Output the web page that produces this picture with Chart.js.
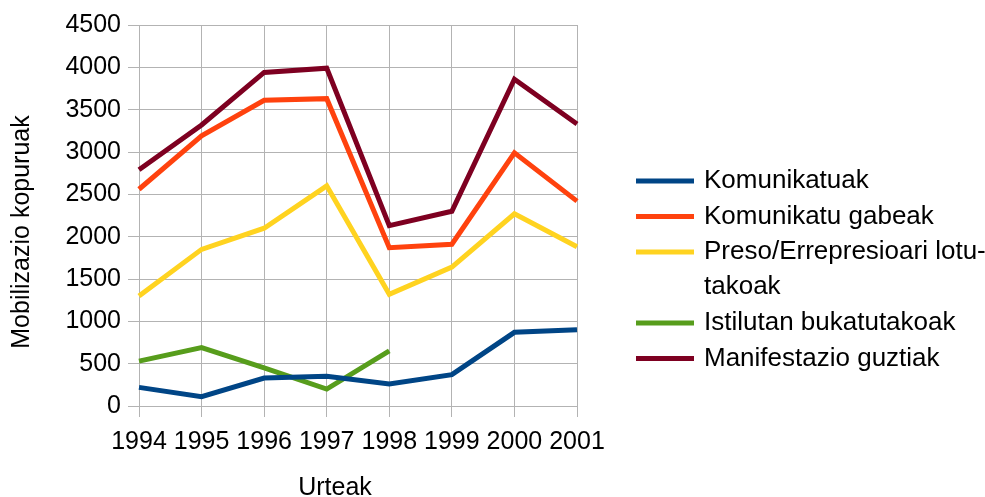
<!DOCTYPE html>
<html><head><meta charset="utf-8">
<script src="https://cdn.jsdelivr.net/npm/chart.js@4/dist/chart.umd.min.js"></script>
<style>html,body{margin:0;padding:0;background:#fff}#wrap{width:985px;height:497px;position:relative}</style>
</head><body><div id="wrap"><canvas id="c" width="985" height="497"></canvas></div>
<script>
const years = ['1994','1995','1996','1997','1998','1999','2000','2001'];
const komunikatuak = [220,110,330,350,260,370,870,900];
const komunikatuGabeak = [2560,3190,3610,3630,1870,1910,2990,2420];
const presoErrepresioa = [1300,1850,2100,2600,1320,1640,2270,1880];
const istilutan = [530,690,450,200,650,null,null,null];
const manifestazioGuztiak = [2790,3320,3940,3990,2130,2300,3860,3330];
const seriesNames = ['Komunikatuak','Komunikatu gabeak','Preso/Errepresioari lotutakoak','Istilutan bukatutakoak','Manifestazio guztiak'];
const legendLines = [['Komunikatuak'],['Komunikatu gabeak'],['Preso/Errepresioari lotu-','takoak'],['Istilutan bukatutakoak'],['Manifestazio guztiak']];
const seriesColors = ['#004586','#ff420e','#ffd320','#579d1c','#7e0021'];
const yTitle = 'Mobilizazio kopuruak';
const xTitle = 'Urteak';

const FONT = '"Liberation Sans", Arial, sans-serif';
const GRID = '#b3b3b3';

const legendPlugin = {
  id: 'customLegend',
  afterDraw(chart) {
    const ctx = chart.ctx;
    ctx.save();
    ctx.font = '26px ' + FONT;
    ctx.textBaseline = 'middle';
    ctx.textAlign = 'left';
    let y = 181;
    chart.data.datasets.forEach((ds, i) => {
      ctx.strokeStyle = ds.borderColor;
      ctx.lineWidth = 5;
      ctx.lineCap = 'butt';
      ctx.beginPath();
      ctx.moveTo(636, y);
      ctx.lineTo(694, y);
      ctx.stroke();
      ctx.fillStyle = '#000';
      legendLines[i].forEach((t, j) => ctx.fillText(t, 704, y + j * 34.5));
      y += legendLines[i].length * 35.5;
    });
    // axis titles
    ctx.font = '25px ' + FONT;
    ctx.textAlign = 'center';
    ctx.fillText(xTitle, 335, 488);
    ctx.translate(22, 232);
    ctx.rotate(-Math.PI / 2);
    ctx.fillText(yTitle, 0, 0);
    ctx.restore();
  }
};

const datasets = [komunikatuak, komunikatuGabeak, presoErrepresioa, istilutan, manifestazioGuztiak].map((d, i) => ({
  label: seriesNames[i],
  data: d,
  borderColor: seriesColors[i],
  backgroundColor: seriesColors[i],
  borderWidth: 5,
  pointRadius: 0,
  pointHoverRadius: 0,
  tension: 0,
  fill: false,
  spanGaps: false
}));

new Chart(document.getElementById('c'), {
  type: 'line',
  data: { labels: years, datasets },
  plugins: [legendPlugin],
  options: {
    responsive: false,
    animation: false,
    devicePixelRatio: 1,
    layout: { padding: { top: 25, right: 408, bottom: 0, left: 0 } },
    plugins: { legend: { display: false }, tooltip: { enabled: false } },
    scales: {
      x: {
        type: 'category',
        offset: false,
        grid: { display: true, offset: false, color: GRID, lineWidth: 1, tickLength: 11, drawTicks: true },
        border: { color: GRID },
        ticks: { color: '#000', font: { family: FONT, size: 25 }, padding: 10, maxRotation: 0, autoSkip: false },
        title: { display: false },
        afterFit(scale) { scale.height = 91; }
      },
      y: {
        min: 0, max: 4500,
        ticks: { stepSize: 500, color: '#000', font: { family: FONT, size: 25 }, padding: 7, callback: v => String(v) },
        grid: { color: GRID, lineWidth: 1, tickLength: 11 },
        border: { color: GRID },
        title: { display: false },
        afterFit(scale) { scale.width = 139; }
      }
    }
  }
});
</script></body></html>
